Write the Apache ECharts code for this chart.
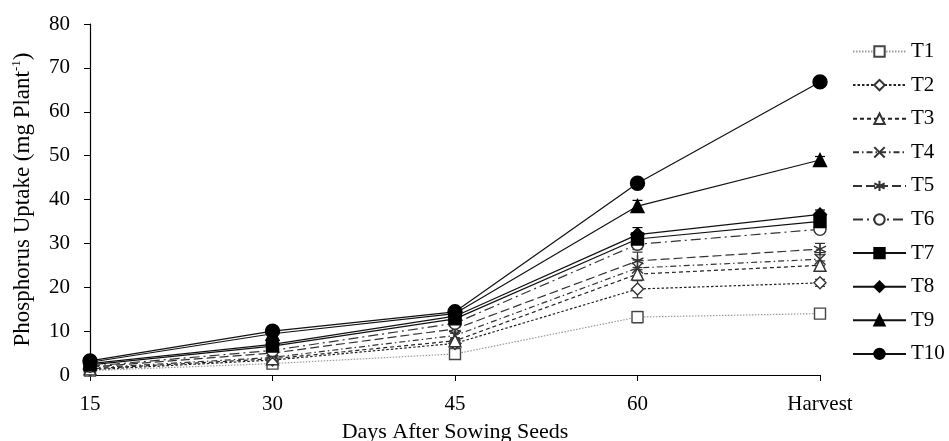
<!DOCTYPE html>
<html lang="en">
<head>
    <meta charset="UTF-8">
    <title>Phosphorus Uptake</title>
    <script src="https://cdn.jsdelivr.net/npm/echarts@6/dist/echarts.min.js"></script>
    <style>
        html, body { margin: 0; padding: 0; background: #fff; }
        #chart { width: 949px; height: 441px; }
    </style>
</head>
<body>
    <div id="chart"></div>

    <script>
        const days = ['15', '30', '45', '60', 'Harvest'];
        const yTicks = [0, 10, 20, 30, 40, 50, 60, 70, 80];

        const t1  = [1.0, 2.6, 4.8, 13.2, 14.0];
        const t2  = [1.2, 3.4, 7.2, 19.6, 21.0];
        const t3  = [1.4, 3.7, 7.8, 23.0, 25.0];
        const t4  = [1.6, 4.0, 9.0, 24.4, 26.4];
        const t5  = [1.8, 5.0, 10.5, 26.0, 28.7];
        const t6  = [2.0, 5.6, 11.8, 29.8, 33.2];
        const t7  = [2.3, 6.6, 12.8, 31.0, 35.0];
        const t8  = [2.6, 7.0, 13.4, 32.0, 36.6];
        const t9  = [2.9, 9.4, 14.0, 38.5, 49.0];
        const t10 = [3.2, 10.0, 14.4, 43.7, 66.8];

        // standard error
        const e1  = [0.3, 0.6, 0.8, 1.3, 1.0];
        const e2  = [0.3, 0.5, 0.8, 2.0, 0.8];
        const e3  = [0.3, 0.5, 0.7, 1.5, 1.0];
        const e4  = [0.3, 0.5, 0.8, 1.8, 1.5];
        const e5  = [0.3, 0.6, 1.0, 2.0, 1.3];
        const e6  = [0.3, 0.6, 0.9, 1.2, 0.9];
        const e7  = [0.3, 0.6, 0.8, 1.4, 1.0];
        const e8  = [0.3, 0.6, 0.8, 1.6, 1.0];
        const e9  = [0.3, 0.5, 0.7, 1.3, 0.8];
        const e10 = [0.3, 0.5, 0.7, 1.0, 0.8];

        const names = ['T1', 'T2', 'T3', 'T4', 'T5', 'T6', 'T7', 'T8', 'T9', 'T10'];
        const values = [t1, t2, t3, t4, t5, t6, t7, t8, t9, t10];
        const errors = [e1, e2, e3, e4, e5, e6, e7, e8, e9, e10];

        const crossPath = 'path://M0,0L10,10M10,0L0,10';
        const starPath = 'path://M5,0L5,10M0.7,2.5L9.3,7.5M0.7,7.5L9.3,2.5';

        const styles = [
            {color: '#9a9a9a', mark: '#444', type: [1.5, 1.5], symbol: 'rect', fill: '#fff', size: 11},
            {color: '#222', mark: '#333', type: [2.5, 2], symbol: 'diamond', fill: '#fff', size: 12},
            {color: '#222', mark: '#333', type: [4, 3], symbol: 'triangle', fill: '#fff', size: 12},
            {color: '#333', mark: '#333', type: [6, 3, 1.5, 3], symbol: crossPath, fill: 'none', size: 11},
            {color: '#333', mark: '#333', type: [9, 4], symbol: starPath, fill: 'none', size: 12},
            {color: '#333', mark: '#333', type: [10, 4, 2, 4], symbol: 'circle', fill: '#fff', size: 12},
            {color: '#111', mark: '#000', type: 'solid', symbol: 'rect', fill: '#000', size: 12},
            {color: '#111', mark: '#000', type: 'solid', symbol: 'diamond', fill: '#000', size: 13},
            {color: '#111', mark: '#000', type: 'solid', symbol: 'triangle', fill: '#000', size: 13},
            {color: '#111', mark: '#000', type: 'solid', symbol: 'circle', fill: '#000', size: 14}
        ];

        const font = 'Liberation Serif';

        const series = [];
        names.forEach(function (name, i) {
            const s = styles[i];
            // error bars first, so the markers sit on top
            series.push({
                type: 'custom',
                silent: true,
                z: 1,
                data: values[i].map(function (v, j) { return [j, v - errors[i][j], v + errors[i][j]]; }),
                renderItem: function (params, api) {
                    const lo = api.coord([api.value(0), api.value(1)]);
                    const hi = api.coord([api.value(0), api.value(2)]);
                    const w = 5;
                    const st = {stroke: s.mark, lineWidth: 1.2};
                    return {
                        type: 'group',
                        children: [
                            {type: 'line', shape: {x1: lo[0], y1: lo[1], x2: hi[0], y2: hi[1]}, style: st},
                            {type: 'line', shape: {x1: lo[0] - w, y1: lo[1], x2: lo[0] + w, y2: lo[1]}, style: st},
                            {type: 'line', shape: {x1: hi[0] - w, y1: hi[1], x2: hi[0] + w, y2: hi[1]}, style: st}
                        ]
                    };
                }
            });
            series.push({
                name: name,
                type: 'line',
                data: values[i],
                z: 2,
                symbol: s.symbol,
                symbolSize: s.size,
                showAllSymbol: true,
                lineStyle: {color: s.color, width: 1.2, type: s.type},
                itemStyle: {color: s.fill, borderColor: s.mark, borderWidth: 1.4},
                emphasis: {disabled: true}
            });
        });

        const chart = echarts.init(document.getElementById('chart'));
        chart.setOption({
            animation: false,
            backgroundColor: '#fff',
            textStyle: {fontFamily: font},
            grid: {left: 90, right: 129, top: 24, bottom: 66, outerBoundsMode: 'none'},
            xAxis: {
                type: 'category',
                data: days,
                boundaryGap: false,
                name: 'Days After Sowing Seeds',
                nameLocation: 'middle',
                nameGap: 46,
                nameTextStyle: {fontFamily: font, fontSize: 22, color: '#000'},
                axisLine: {lineStyle: {color: '#000', width: 1.2}},
                axisTick: {alignWithLabel: true, length: 6, lineStyle: {color: '#000'}},
                axisLabel: {fontFamily: font, fontSize: 21, color: '#000', margin: 19}
            },
            yAxis: {
                type: 'value',
                min: yTicks[0],
                max: yTicks[yTicks.length - 1],
                interval: 10,
                name: '{a|Phosphorus Uptake (mg Plant}{s|-1}{a|)}',
                nameLocation: 'middle',
                nameGap: 54,
                nameTextStyle: {
                    rich: {
                        a: {fontFamily: font, fontSize: 23, color: '#000', lineHeight: 26},
                        s: {fontFamily: font, fontSize: 13, color: '#000', verticalAlign: 'top', lineHeight: 26, padding: [0, 0, 10, 0]}
                    }
                },
                splitLine: {show: false},
                axisLine: {show: true, lineStyle: {color: '#000', width: 1.2}},
                axisTick: {show: true, length: 6, lineStyle: {color: '#000'}},
                axisLabel: {fontFamily: font, fontSize: 21, color: '#000', margin: 20}
            },
            legend: {
                orient: 'vertical',
                left: 847,
                top: 36,
                data: names,
                itemWidth: 53,
                itemHeight: 13,
                itemGap: 12.6,
                selectedMode: false,
                textStyle: {fontFamily: font, fontSize: 21, color: '#000'}
            },
            series: series
        });
    </script>
</body>
</html>
